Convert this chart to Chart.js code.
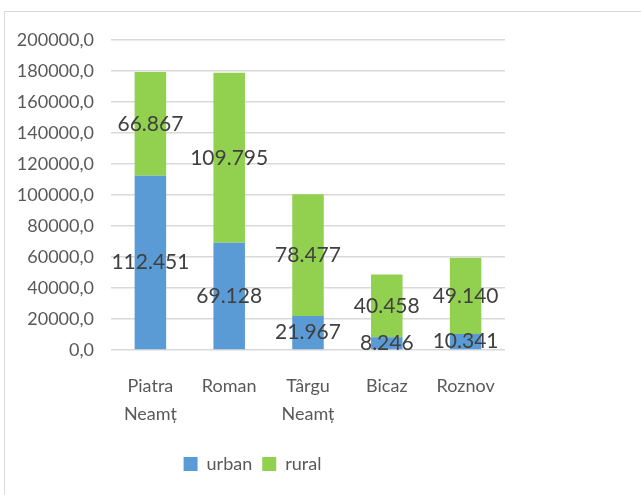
<!DOCTYPE html>
<html>
<head>
<meta charset="utf-8">
<script src="https://cdn.jsdelivr.net/npm/chart.js@4/dist/chart.umd.min.js"></script>
<style>
    body { margin: 0; background: #fff; }
    #wrap { position: relative; width: 641px; height: 495px; }
    #frame { position: absolute; left: 4px; top: 11px; width: 700px; height: 600px;
             border-left: 1px solid #d9d9d9; border-top: 1px solid #d9d9d9; }
    canvas { position: absolute; left: 0; top: 0; }
</style>
</head>
<body>
<div id="wrap">
    <div id="frame"></div>
    <canvas id="grafic" width="641" height="495"></canvas>
</div>
<script>
// date
const orase = [["Piatra", "Neamț"], "Roman", ["Târgu", "Neamț"], "Bicaz", "Roznov"];
const urban = [112451, 69128, 21967, 8246, 10341];
const rural = [66867, 109795, 78477, 40458, 49140];
const yMax = 200000;
const yPas = 20000;

const fontFam = "Lato, 'Open Sans', sans-serif";

function formatMii(v) {
    return String(v).replace(/\B(?=(\d{3})+(?!\d))/g, ".");
}

// etichete in mijlocul fiecarui segment
const eticheteValori = {
    id: "eticheteValori",
    afterDatasetsDraw(chart) {
        const ctx = chart.ctx;
        ctx.save();
        ctx.font = "21px " + fontFam;
        ctx.fillStyle = "#404040";
        ctx.textAlign = "center";
        ctx.textBaseline = "middle";
        chart.data.datasets.forEach((ds, i) => {
            chart.getDatasetMeta(i).data.forEach((bar, j) => {
                const mid = (bar.y + bar.base) / 2;
                ctx.fillText(formatMii(ds.data[j]), bar.x, mid);
            });
        });
        ctx.restore();
    }
};

new Chart(document.getElementById("grafic"), {
    type: "bar",
    data: {
        labels: orase,
        datasets: [
            { label: "urban", data: urban, backgroundColor: "#5b9bd5" },
            { label: "rural", data: rural, backgroundColor: "#92d050" }
        ]
    },
    options: {
        responsive: false,
        animation: false,
        barPercentage: 0.4,
        categoryPercentage: 1,
        layout: { padding: { top: 40, right: 136, bottom: 12, left: 0 } },
        scales: {
            x: {
                stacked: true,
                grid: { display: false },
                border: { display: false },
                ticks: { color: "#595959", font: { family: fontFam, size: 18, lineHeight: 1.55 }, padding: 14, maxRotation: 0 },
                afterFit(scale) { scale.height = 95; }
            },
            y: {
                stacked: true,
                min: 0,
                max: yMax,
                grid: { color: "#d9d9d9", lineWidth: 1.5, drawTicks: false },
                border: { display: false },
                ticks: {
                    stepSize: yPas,
                    color: "#595959",
                    font: { family: fontFam, size: 18 },
                    padding: 17,
                    callback: v => v.toFixed(1).replace(".", ",")
                },
                afterFit(scale) { scale.width = 111; }
            }
        },
        plugins: {
            legend: {
                position: "bottom",
                labels: { color: "#595959", font: { family: fontFam, size: 18 }, boxWidth: 14, boxHeight: 14, padding: 10 }
            },
            tooltip: { enabled: false }
        }
    },
    plugins: [eticheteValori]
});
</script>
</body>
</html>
